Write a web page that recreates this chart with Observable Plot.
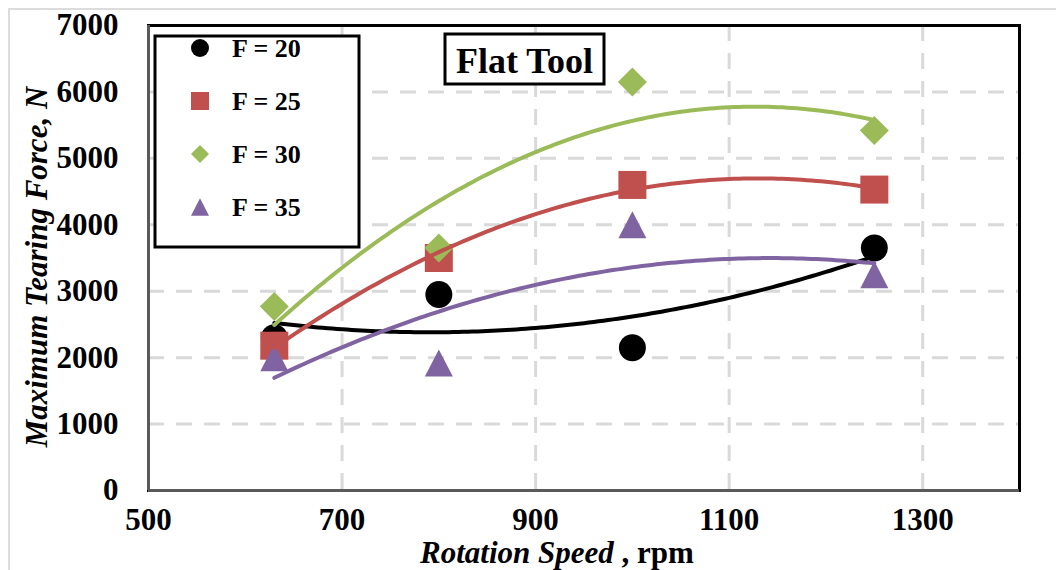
<!DOCTYPE html>
<html>
<head>
<meta charset="utf-8">
<script src="https://cdn.jsdelivr.net/npm/d3@7"></script>
<script src="https://cdn.jsdelivr.net/npm/@observablehq/plot@0.6"></script>
<style>
html, body { margin: 0; padding: 0; background: #fff; }
#wrap { position: relative; width: 1056px; height: 570px; overflow: hidden; }
#chart { position: absolute; left: 0; top: 0; }
#border { position: absolute; left: 8px; top: 8px; width: 1100px; height: 600px;
  border-top: 2px solid #dcdcdc; border-left: 2px solid #dcdcdc; pointer-events: none; }
</style>
</head>
<body>
<div id="wrap"><div id="chart"></div><div id="border"></div></div>
<script>
// ---- data ----
const rpm = [630, 800, 1000, 1250];
const seriesNames = ["F = 20", "F = 25", "F = 30", "F = 35"];
const f20 = [2300, 2950, 2150, 3650];
const f25 = [2180, 3500, 4600, 4530];
const f30 = [2770, 3650, 6150, 5420];
const f35 = [2000, 1920, 4000, 3250];
const xTicks = [500, 700, 900, 1100, 1300];
const yTicks = [0, 1000, 2000, 3000, 4000, 5000, 6000, 7000];
const xGrid = [700, 900, 1100, 1300];
const yGrid = [1000, 2000, 3000, 4000, 5000, 6000];
const xDomain = [500, 1400];
const yDomain = [0, 7000];
const colors = ["#000000", "#C0504D", "#9BBB59", "#8064A2"];
const xTitle = "Rotation Speed";
const xUnit = " , rpm";
const yTitle = "Maximum Tearing Force, N";
const boxTitle = "Flat Tool";

// ---- symbols (Excel-like markers) ----
const half = size => Math.sqrt(size / Math.PI);
const symCircle = { draw(c, s) { const h = half(s); c.moveTo(h, 0); c.arc(0, 0, h, 0, 2 * Math.PI); } };
const symSquare = { draw(c, s) { const h = half(s); c.moveTo(-h, -h); c.lineTo(h, -h); c.lineTo(h, h); c.lineTo(-h, h); c.closePath(); } };
const symDiamond = { draw(c, s) { const h = half(s); c.moveTo(0, -h); c.lineTo(h, 0); c.lineTo(0, h); c.lineTo(-h, 0); c.closePath(); } };
const symTriangle = { draw(c, s) { const h = half(s); c.moveTo(0, -h * 0.97); c.lineTo(h, h * 0.97); c.lineTo(-h, h * 0.97); c.closePath(); } };
const syms = [symCircle, symSquare, symDiamond, symTriangle];
const markerR = [13.5, 14, 14.5, 14];

// ---- tables built from the arrays ----
const allSeries = [f20, f25, f30, f35];
const points = [];
allSeries.forEach((vals, i) => vals.forEach((v, j) => points.push({ s: i, x: rpm[j], y: v })));

// 2nd-order polynomial least-squares trendline (as in the source chart)
function quadFit(xs, ys) {
  const x0 = d3.mean(xs), sc = 100;
  const m = [[0, 0, 0], [0, 0, 0], [0, 0, 0]], r = [0, 0, 0];
  xs.forEach((x, k) => {
    const u = (x - x0) / sc, p = [1, u, u * u];
    for (let a = 0; a < 3; a++) { r[a] += p[a] * ys[k]; for (let b = 0; b < 3; b++) m[a][b] += p[a] * p[b]; }
  });
  for (let i = 0; i < 3; i++) for (let j = i + 1; j < 3; j++) {
    const f = m[j][i] / m[i][i];
    for (let k = i; k < 3; k++) m[j][k] -= f * m[i][k];
    r[j] -= f * r[i];
  }
  const c = [0, 0, 0];
  for (let i = 2; i >= 0; i--) { let s = r[i]; for (let k = i + 1; k < 3; k++) s -= m[i][k] * c[k]; c[i] = s / m[i][i]; }
  return x => { const u = (x - x0) / sc; return c[0] + c[1] * u + c[2] * u * u; };
}
const xs = d3.range(d3.min(rpm), d3.max(rpm) + 0.01, 5);
const trends = allSeries.map(vals => { const f = quadFit(rpm, vals); return xs.map(x => ({ x, y: f(x) })); });

const gridStyle = { stroke: "#d9d9d9", strokeWidth: 3, strokeDasharray: "16,12" };

const marks = [
  Plot.ruleY(yGrid, gridStyle),
  Plot.ruleX(xGrid, gridStyle),
];
allSeries.forEach((_, i) => {
  marks.push(Plot.dot(points.filter(d => d.s === i), { x: "x", y: "y", symbol: syms[i], r: markerR[i], fill: colors[i], stroke: "none" }));
});
trends.forEach((t, i) => {
  marks.push(Plot.line(t, { x: "x", y: "y", stroke: colors[i], strokeWidth: 4 }));
});
marks.push(Plot.frame({ stroke: "#000", strokeWidth: 3 }));
marks.push(Plot.ruleX([xDomain[0]], { stroke: "#5a5a5a", strokeWidth: 3 }));
marks.push(Plot.ruleY([yDomain[0]], { stroke: "#5a5a5a", strokeWidth: 3 }));

const plot = Plot.plot({
  width: 1056, height: 570,
  marginLeft: 148, marginRight: 37, marginTop: 25, marginBottom: 80,
  style: { fontFamily: "'Liberation Serif', 'Times New Roman', serif", fontSize: "31px", fontWeight: "bold", color: "#000", background: "transparent", overflow: "visible" },
  x: { domain: xDomain, ticks: xTicks, tickSize: 0, tickPadding: 17, label: null, tickFormat: d => String(d) },
  y: { domain: yDomain, ticks: yTicks, tickSize: 0, tickPadding: 30, label: null, tickFormat: d => String(d) },
  marks
});
document.getElementById("chart").appendChild(plot);

// ---- titles, legend, annotation box ----
const svg = d3.select(plot);
svg.append("text")
  .attr("transform", "translate(47,267) rotate(-90)")
  .attr("text-anchor", "middle")
  .attr("fill", "#000")
  .style("font-style", "italic").style("font-size", "31px").style("font-weight", "bold")
  .text(yTitle);

const xt = svg.append("text").attr("x", 420).attr("y", 563).attr("fill", "#000")
  .attr("text-anchor", "start")
  .style("font-size", "31px").style("font-weight", "bold").style("white-space", "pre").attr("xml:space", "preserve");
xt.append("tspan").style("font-style", "italic").text(xTitle);
xt.append("tspan").text(xUnit);

const lg = svg.append("g");
lg.append("rect").attr("x", 155).attr("y", 36).attr("width", 204).attr("height", 211)
  .attr("fill", "#fff").attr("stroke", "#000").attr("stroke-width", 3);
seriesNames.forEach((name, i) => {
  const cy = 48 + i * 53;
  lg.append("path").attr("transform", `translate(200,${cy})`)
    .attr("d", d3.symbol(syms[i], Math.PI * 9 * 9)()).attr("fill", colors[i]);
  lg.append("text").attr("x", 232).attr("y", cy).attr("dy", "0.35em").attr("fill", "#000")
    .attr("text-anchor", "start")
    .style("font-size", "26px").style("font-weight", "bold").text(name);
});

const tb = svg.append("g");
tb.append("rect").attr("x", 445).attr("y", 34).attr("width", 159).attr("height", 50)
  .attr("fill", "#fff").attr("stroke", "#000").attr("stroke-width", 3);
tb.append("text").attr("x", 524.5).attr("y", 73).attr("text-anchor", "middle").attr("fill", "#000")
  .style("font-size", "36px").style("font-weight", "bold").text(boxTitle);
</script>
</body>
</html>
